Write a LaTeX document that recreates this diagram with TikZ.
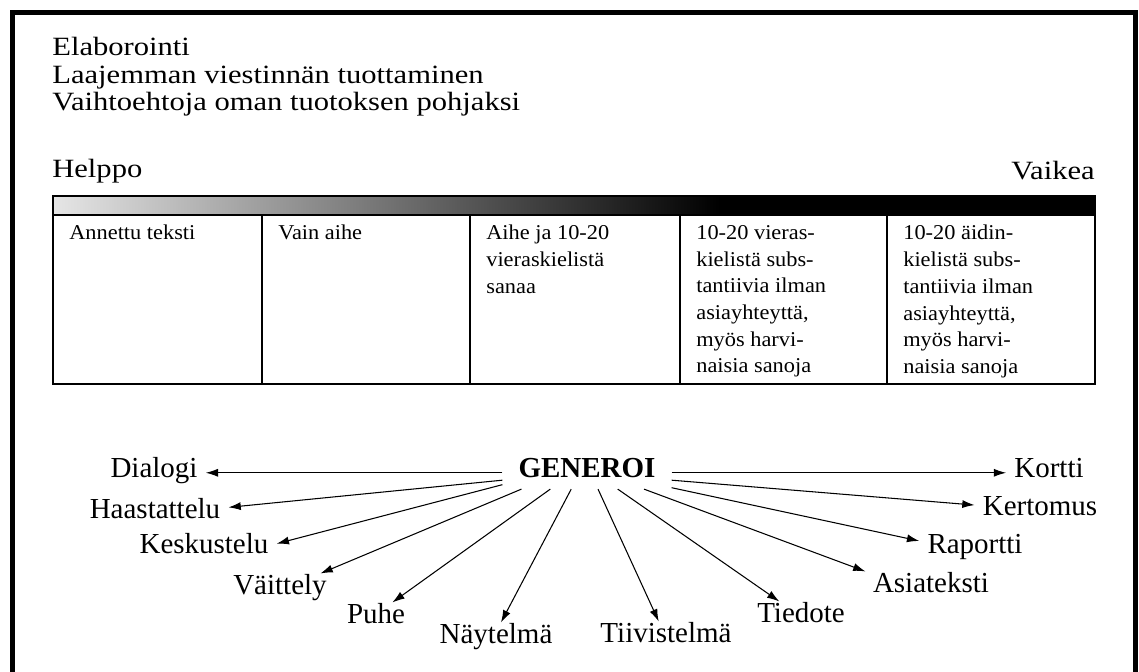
\documentclass[tikz,border=0pt]{standalone}
\usepackage{fontspec}
\setmainfont{Liberation Serif}
\newfontfamily\widefont{Liberation Serif}[FakeStretch=1.16]
\newfontfamily\cellfont{Liberation Serif}[FakeStretch=1.06]
\usetikzlibrary{arrows.meta}

\tikzset{
  head/.style={font=\widefont\fontsize{15}{15.65}\selectfont, inner sep=0pt, align=left},
  cell/.style={font=\cellfont\fontsize{12}{15.2}\selectfont, inner sep=0pt, align=left, anchor=north west},
  lab/.style={font=\fontsize{16.5}{19}\selectfont, inner sep=4.5pt, text height=0.7em, text depth=0.22em, anchor=base},
  arr/.style={line width=0.6pt, -{Latex[length=7pt,width=4.6pt]}},
}

\begin{document}
\begin{tikzpicture}[x=0.02cm,y=-0.02cm]
		\useasboundingbox (0,0) rectangle (1139,672);
		\begin{scope}
		\clip (0,0) rectangle (1139,672);
		\draw[line width=2.3pt] (12.5,12.5) rectangle (1135.5,720);
		\end{scope}
		% heading
		\node[head, anchor=north west] (titl) at (52,37) {Elaborointi\\Laajemman viestinnän tuottaminen\\Vaihtoehtoja oman tuotoksen pohjaksi};
		\node[head, anchor=base west] (easy) at (52,178) {Helppo};
		\node[head, anchor=base east] (hard) at (1095,180) {Vaikea};
		% table with difficulty bar
		\shade[left color=black!10, right color=black] (53,196) rectangle (720,215);
		\fill (720,196) rectangle (1095,215);
		\draw[line width=0.6pt] (53,196) rectangle (1095,384);
		\draw[line width=0.6pt] (53,215) -- (1095,215);
		\foreach \x in {262,470,680,887}
			\draw[line width=0.6pt] (\x,215) -- (\x,384);
		\node[cell] (c1) at (69,225) {Annettu teksti};
		\node[cell] (c2) at (278,225) {Vain aihe};
		\node[cell] (c3) at (486,225) {Aihe ja 10-20\\vieraskielistä\\sanaa};
		\node[cell] (c4) at (696,225) {10-20 vieras-\\kielistä subs-\\tantiivia ilman\\asiayhteyttä,\\myös harvi-\\naisia sanoja};
		\node[cell] (c5) at (903,225) {10-20 äidin-\\kielistä subs-\\tantiivia ilman\\asiayhteyttä,\\myös harvi-\\naisia sanoja};
		% generoi
		\node[lab, font=\bfseries\fontsize{16.5}{19}\selectfont, inner xsep=9pt] (gen) at (587,477) {GENEROI};
		\node[lab] (dia) at (154,477) {Dialogi};
		\node[lab] (kor) at (1049,477) {Kortti};
		\node[lab] (haa) at (155,518) {Haastattelu};
		\node[lab] (ker) at (1040,515) {Kertomus};
		\node[lab] (kes) at (204,553) {Keskustelu};
		\node[lab] (rap) at (975,553) {Raportti};
		\node[lab] (vai) at (280,594) {Väittely};
		\node[lab] (asi) at (931,592) {Asiateksti};
		\node[lab] (puh) at (376,623) {Puhe};
		\node[lab] (tie) at (801,622) {Tiedote};
		\node[lab] (nay) at (496,643) {Näytelmä};
		\node[lab] (tii) at (666,642) {Tiivistelmä};
		\draw[arr] (gen.west) -- (dia.east);
		\draw[arr] (gen.east) -- (kor.west);
		\draw[arr] (gen.185) -- (haa.5);
		\draw[arr] (gen.355) -- (ker.175);
		\draw[arr] (gen.188) -- (kes.4);
		\draw[arr] (gen.350) -- (rap.172);
		\draw[arr] (gen.194) -- (vai.22);
		\draw[arr] (gen.344) -- (asi.166);
		\draw[arr] (gen.204) -- (puh.45);
		\draw[arr] (gen.332) -- (tie.143);
		\draw[arr] (gen.226) -- (nay.73);
		\draw[arr] (gen.304) -- (tii.114);
\end{tikzpicture}
\end{document}
